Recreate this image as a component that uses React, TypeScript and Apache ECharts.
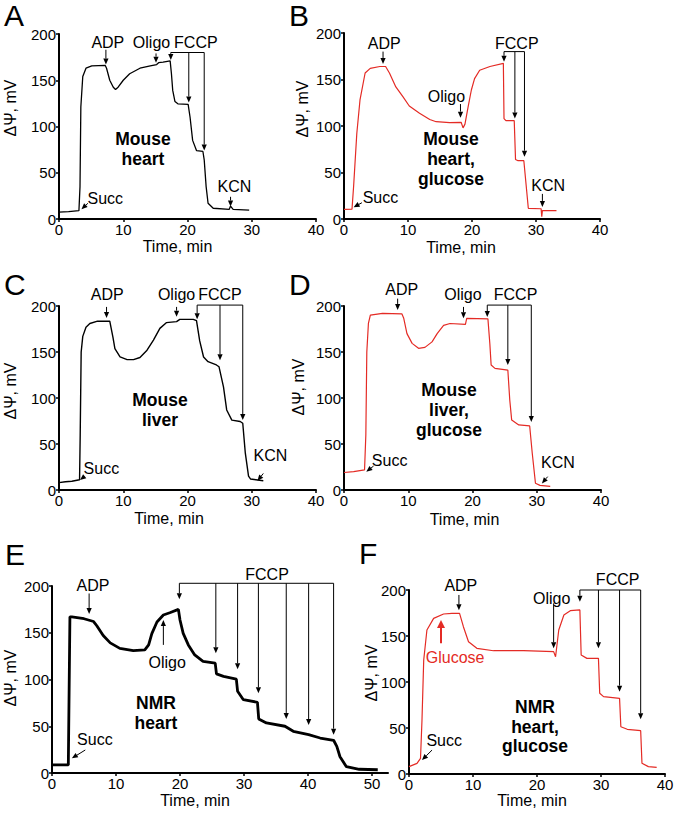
import React, { useEffect, useRef } from 'react';
import * as echarts from 'echarts';

const FONT = '"Liberation Sans", Arial, Helvetica, sans-serif';
const TICK_FONT = '"Liberation Sans Narrow", "Arial Narrow", "Liberation Sans", Arial, sans-serif';
const RED = '#e42b25';
const BLACK = '#000000';

// ---- Traces (time, min ; ΔΨ, mV) ----
const traceA = [[0,7.5],[1.5,8],[3.1,9],[3.27,35],[3.4,121],[3.7,154],[4.2,163],[5.1,165.5],[7.2,166],[7.4,163],[7.9,150],[8.45,142.5],[8.8,140],[9.2,142.5],[10,150],[11,157],[12.6,163],[14.2,165.5],[15.2,167],[15.5,169],[16.2,169.5],[17.3,171],[17.5,157],[17.7,139],[18.05,127],[18.5,124.5],[20.1,124],[20.4,110],[20.8,85],[21.4,74],[22.4,73],[22.6,64],[22.9,35],[23.2,17],[24,11.6],[26.5,10.5],[26.7,14],[27.1,10.5],[29.6,9.7]];
const traceB = [[0,10.4],[1.25,10.5],[1.5,35],[2.0,92],[2.5,128],[3.3,157],[4.1,162],[5.6,164],[6.5,164],[7.1,157],[8.1,142],[9.2,131.5],[10.2,121.5],[11.8,113.6],[13.4,107],[14.4,104.6],[16.5,103.6],[18.3,104],[18.6,98],[18.9,102],[19.4,120.8],[19.9,138.7],[20.4,151],[21.2,160],[22.8,164],[24.9,167.4],[25.0,108],[25.3,105.7],[26.6,105.7],[26.8,64],[27.2,62.7],[28.1,62.7],[28.8,11.5],[30.8,11],[30.9,2.5],[31.0,9],[33.2,9]];
const traceC = [[0,8],[1,9],[2,9.5],[3.0,10.9],[3.2,11],[3.3,60],[3.45,150],[3.7,167],[4.2,177],[4.8,181],[6,183.5],[7.9,183.5],[8.4,166],[8.7,153.6],[9.5,144.6],[10.6,141.7],[11.6,141.7],[12.6,144],[13.7,152],[14.7,163],[15.7,175.7],[16.7,181.9],[18.3,183],[18.8,185.5],[20.9,185.5],[21.4,184],[21.9,162],[22.5,144.6],[23.2,139.5],[24.5,135.9],[24.9,134],[25.6,112],[26.1,87],[26.9,76],[28.2,74.5],[28.6,72.5],[29.0,40],[29.5,15],[29.8,12],[31.8,10]];
const traceD = [[0,19],[1.5,20],[3.2,21.9],[3.4,60],[3.55,150],[3.8,181],[4.1,190],[6,192],[9.0,191.5],[9.3,186.6],[9.8,170],[10.6,159.4],[11.6,154],[12.6,155],[13.7,161],[14.5,170],[15.5,179],[16.5,181],[18.9,180],[19.1,186.6],[22.4,186],[22.7,159],[22.9,135.9],[23.5,132.2],[25.5,130.4],[25.8,97.8],[26.1,76],[27.2,70.7],[28.9,69.6],[29.3,40],[29.8,7.3],[30.5,5],[32.1,4]];
const traceE = [[0,8.6],[2.55,8.6],[2.8,167],[3.1,167],[5,165],[6.5,162],[7.0,157.5],[8.0,147],[9.1,139.2],[10.6,133.3],[12.7,130.9],[14.5,131.6],[15.1,137],[15.6,149],[16.4,161.5],[17.4,169],[18.4,171.4],[19.75,175],[20.0,163.6],[20.5,149.4],[21.3,137],[22.3,126.3],[23.6,119.3],[25.5,117.5],[25.7,106],[26.8,103.4],[28.8,100.5],[29.0,87.4],[29.9,78.4],[32.1,75.6],[32.3,57.8],[33.5,53.5],[36.4,50],[37.7,44.6],[40.1,41],[41.9,37.4],[44.0,35],[44.5,28.5],[45,17.4],[46,6.7],[48,4],[50.9,3.5]];
const traceF = [[0,8],[1.25,11.6],[1.8,17],[2.03,58.7],[2.3,123.9],[2.8,156.5],[3.85,169.2],[5.4,173.9],[6.7,174.6],[7.9,174.6],[8.5,160.1],[9.3,143.8],[10.6,136.6],[13.2,134],[17.9,134],[22.6,133],[22.9,127.5],[23.4,156.5],[24.2,172.8],[25.2,177.5],[26.7,178.3],[26.9,129.3],[27.8,125.7],[29.6,125.7],[29.8,87.7],[30.4,84.1],[32.9,82.2],[33.1,51.4],[34.1,48.6],[36.2,47.1],[36.4,11.6],[37.4,8],[38.7,7.2]];

// ---- Annotation arrows [x0, y0, xTip, yTip] in data units ----
const arrowsA = [[7.3,183,7.3,167],[15.1,179,15.1,169],[26.7,24,26.7,13.5],[4.5,17,3.5,10.5]];
const arrowsB = [[6.1,180,6.1,166.7],[18.2,123.6,18.2,109],[31.0,27,31.0,13],[2.8,17.5,1.5,12.6]];
const arrowsC = [[7.4,199,7.4,187],[18.3,199,18.3,188.4],[31.8,18,30.9,10],[4.05,15.2,3.27,10.9]];
const arrowsD = [[8.35,208,8.35,195.7],[18.6,199,18.6,186.6],[31.7,14.5,30.8,7.2],[4.6,26,3.47,19.9]];
const arrowsE = [[5.8,192,5.8,170],[17.4,137,17.4,163.6],[5.2,24.6,3.1,15.7]];
const arrowsF = [[7.8,194.6,7.8,178],[22.6,185.5,22.6,136.6],[3.6,26,2.03,15.2]];
const glucoseArrowF = [[5.0,142,5.0,167.4]];

// ---- FCCP additions [time, arrow tip] and bracket level ----
const fccpA = [[17.4,172],[20.2,126],[22.6,74]];
const fccpB = [[25.0,169],[26.7,108],[28.2,67]];
const fccpC = [[21.5,185.5],[25.06,141],[28.6,76]];
const fccpD = [[22.3,188],[25.5,135.9],[29.15,73.9]];
const fccpE = [[19.9,185.7],[25.6,128],[29.0,110.9],[32.25,85.2],[36.6,57.8],[40.1,51.3],[44.0,41]];
const fccpF = [[26.7,187.3],[29.6,136.6],[32.9,89.5],[36.2,59.4]];
const bracketLevels = [180, 180, 201, 201, 202.9, 200];

// ---- Annotation labels [text, time, mV] ----
const labelsA = [['ADP',7.6,191],['Oligo',14.4,191],['FCCP',21.3,191],['KCN',27.3,35],['Succ',7.2,22.4]];
const labelsB = [['ADP',6.3,189],['Oligo',16.0,131.5],['FCCP',27.0,189],['KCN',31.9,36],['Succ',5.7,23.3]];
const labelsC = [['ADP',7.5,212],['Oligo',18.3,212],['FCCP',25.06,212],['KCN',32.9,38],['Succ',6.6,23.6]];
const labelsD = [['ADP',9.0,218],['Oligo',18.5,212],['FCCP',26.7,212],['KCN',33.3,29.7],['Succ',7.1,32.6]];
const labelsE = [['ADP',6.4,201],['Oligo',18.0,118],['FCCP',33.6,212.8],['Succ',6.7,35.3]];
const labelsF = [['ADP',8.1,205.4],['Oligo',22.3,191],['FCCP',32.6,210.9],['Succ',5.5,36.6]];
const glucoseLabelF = [['Glucose',7.2,126.8]];

// ---- Axes ----
const yTicks = [0, 50, 100, 150, 200];
const xTicks40 = [0, 10, 20, 30, 40];
const xTicks50 = [0, 10, 20, 30, 40, 50];
const xMax = [40, 40, 40, 40, 52.5, 40];

const panelLetters = ['A', 'B', 'C', 'D', 'E', 'F'];
const tissueLabels = ['Mouse\nheart', 'Mouse\nheart,\nglucose', 'Mouse\nliver', 'Mouse\nliver,\nglucose', 'NMR\nheart', 'NMR\nheart,\nglucose'];

const traces = [traceA, traceB, traceC, traceD, traceE, traceF];
const traceColors = [BLACK, RED, BLACK, RED, BLACK, RED];
const traceWidths = [1.3, 1.2, 1.4, 1.2, 2.8, 1.2];
const arrowsAll = [arrowsA, arrowsB, arrowsC, arrowsD, arrowsE, arrowsF];
const fccpAll = [fccpA, fccpB, fccpC, fccpD, fccpE, fccpF];
const labelsAll = [labelsA, labelsB, labelsC, labelsD, labelsE, labelsF];

// layout
const grids = [
  { left: 59, top: 34, width: 257, height: 185 },
  { left: 344, top: 33, width: 256, height: 186 },
  { left: 59, top: 306, width: 257, height: 184 },
  { left: 344, top: 306, width: 257, height: 184 },
  { left: 52, top: 586, width: 336, height: 187 },
  { left: 409, top: 590, width: 256, height: 184 },
];
const letterPos = [[4, 15.5], [289, 15.5], [4, 284], [289, 284], [5, 554], [359, 553]];
const tissuePos = [[143, 149], [451, 159], [160, 410], [449, 410], [156, 713], [535, 726.5]];
const xNamePos = [[177.5, 246], [461, 247.5], [169, 518.5], [464.5, 519.5], [195, 800], [532, 800]];
const yNamePos = [[10, 108], [302, 109], [10, 391], [298, 387], [10, 678], [371, 673]];

function arrowEls(p0: number[], p1: number[], color: string, width: number, headLen: number, headW: number) {
  const dx = p1[0] - p0[0];
  const dy = p1[1] - p0[1];
  const len = Math.hypot(dx, dy) || 1;
  const ux = dx / len, uy = dy / len;
  const bx = p1[0] - ux * headLen, by = p1[1] - uy * headLen;
  const nx = -uy, ny = ux;
  return [
    { type: 'line', shape: { x1: p0[0], y1: p0[1], x2: bx, y2: by }, style: { stroke: color, lineWidth: width } },
    { type: 'polygon', shape: { points: [[p1[0], p1[1]], [bx + nx * headW, by + ny * headW], [bx - nx * headW, by - ny * headW]] }, style: { fill: color } },
  ];
}

function textEl(pt: number[], text: string, color: string) {
  return {
    type: 'text',
    x: pt[0],
    y: pt[1],
    style: {
      text, fill: color, fontSize: 16, fontFamily: FONT,
      align: 'center', verticalAlign: 'middle', textAlign: 'center', textVerticalAlign: 'middle',
    },
  };
}

function annotationSeries(i: number) {
  return {
    type: 'custom',
    xAxisIndex: i,
    yAxisIndex: i,
    silent: true,
    clip: false,
    data: [[0, 0]],
    encode: { x: 0, y: 1 },
    renderItem: (_params: any, api: any) => {
      const children: any[] = [];
      const C = (x: number, y: number) => api.coord([x, y]);
      for (const a of arrowsAll[i]) {
        children.push(...arrowEls(C(a[0], a[1]), C(a[2], a[3]), BLACK, 1, 6, 2.6));
      }
      const fc = fccpAll[i];
      const lvl = bracketLevels[i];
      const l0 = C(fc[0][0], lvl);
      const l1 = C(fc[fc.length - 1][0], lvl);
      children.push({ type: 'line', shape: { x1: l0[0], y1: l0[1], x2: l1[0], y2: l1[1] }, style: { stroke: BLACK, lineWidth: 1 } });
      for (const f of fc) {
        children.push(...arrowEls(C(f[0], lvl), C(f[0], f[1]), BLACK, 1, 6, 2.6));
      }
      for (const lb of labelsAll[i]) {
        children.push(textEl(C(lb[1] as number, lb[2] as number), lb[0] as string, BLACK));
      }
      if (i === 5) {
        for (const a of glucoseArrowF) {
          children.push(...arrowEls(C(a[0], a[1]), C(a[2], a[3]), RED, 2, 8, 4));
        }
        for (const lb of glucoseLabelF) {
          children.push(textEl(C(lb[1] as number, lb[2] as number), lb[0] as string, RED));
        }
      }
      return { type: 'group', children };
    },
  };
}

export default function App() {
  const ref = useRef<HTMLDivElement>(null);
  useEffect(() => {
    if (!ref.current) return;
    const chart = echarts.init(ref.current, undefined, { renderer: 'svg' });
    const labelStyle = { color: BLACK, fontSize: 15, fontFamily: TICK_FONT, margin: 3 };
    const xAxis = grids.map((_, i) => {
      const ticks = i === 4 ? xTicks50 : xTicks40;
      return {
        type: 'value',
        gridIndex: i,
        min: 0,
        max: xMax[i],
        interval: 10,
        splitLine: { show: false },
        axisLine: { show: true, onZero: false, lineStyle: { color: BLACK, width: 2 } },
        axisTick: { show: true, length: 3, lineStyle: { color: BLACK, width: 1.5 }, customValues: ticks },
        axisLabel: { ...labelStyle, customValues: ticks },
      };
    });
    const yAxis = grids.map((_, i) => ({
      type: 'value',
      gridIndex: i,
      min: 0,
      max: 200,
      interval: 50,
      splitLine: { show: false },
      axisLine: { show: true, onZero: false, lineStyle: { color: BLACK, width: 2 } },
      axisTick: { show: true, length: 3, lineStyle: { color: BLACK, width: 1.5 }, customValues: yTicks },
      axisLabel: { ...labelStyle, margin: 3, customValues: yTicks },
    }));
    const series: any[] = [];
    traces.forEach((t, i) => {
      series.push({
        type: 'line',
        xAxisIndex: i,
        yAxisIndex: i,
        data: t,
        showSymbol: false,
        symbol: 'none',
        silent: true,
        lineStyle: { color: traceColors[i], width: traceWidths[i] },
      });
      series.push(annotationSeries(i));
    });
    const graphic: any[] = [];
    panelLetters.forEach((L, i) => {
      graphic.push({ type: 'text', x: letterPos[i][0], y: letterPos[i][1], style: { text: L, fill: BLACK, fontSize: 30, fontFamily: FONT, textAlign: 'left', textVerticalAlign: 'middle' } });
      graphic.push({ type: 'text', x: tissuePos[i][0], y: tissuePos[i][1], style: { text: tissueLabels[i], fill: BLACK, fontSize: 17.5, fontWeight: 'bold', lineHeight: 19.6, fontFamily: FONT, textAlign: 'center', textVerticalAlign: 'middle' } });
      graphic.push({ type: 'text', x: xNamePos[i][0], y: xNamePos[i][1], style: { text: 'Time, min', fill: BLACK, fontSize: 16, fontFamily: FONT, textAlign: 'center', textVerticalAlign: 'middle' } });
      graphic.push({ type: 'text', x: yNamePos[i][0], y: yNamePos[i][1], rotation: Math.PI / 2, style: { text: 'ΔΨ, mV', fill: BLACK, fontSize: 16, fontFamily: FONT, textAlign: 'center', textVerticalAlign: 'middle' } });
    });
    chart.setOption({
      animation: false,
      backgroundColor: '#ffffff',
      grid: grids.map((g) => ({ ...g, containLabel: false })),
      xAxis,
      yAxis,
      series,
      graphic,
    });
    return () => chart.dispose();
  }, []);
  return <div ref={ref} style={{ position: 'absolute', left: 0, top: 0, width: 677, height: 813 }} />;
}
